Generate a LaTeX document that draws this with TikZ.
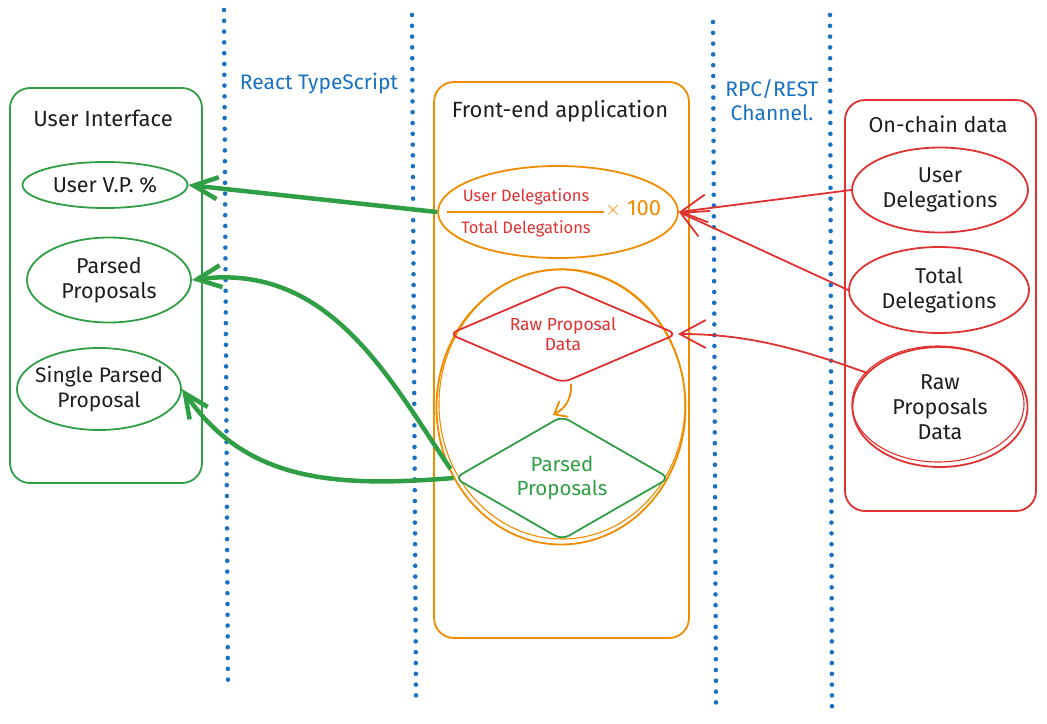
\documentclass[tikz,border=0pt]{standalone}
\usepackage{fontspec}
\setmainfont{Fira Sans}
\usetikzlibrary{shapes.geometric,arrows.meta}
\definecolor{xgreen}{HTML}{2F9E44}
\definecolor{xred}{HTML}{E03131}
\definecolor{xorange}{HTML}{F08C00}
\definecolor{xblue}{HTML}{1971C2}
\definecolor{xblack}{HTML}{1E1E1E}
\tikzset{
  fs/.style={font=\fontsize{#1}{#1}\selectfont\setlength\baselineskip{1.15\baselineskip}},
  panel/.style={draw=#1, line width=1.8pt, rounded corners=20pt, inner sep=0pt},
  oval/.style={ellipse, draw=#1, line width=1.8pt, inner sep=0pt},
  dia/.style={diamond, draw=#1, line width=1.8pt, inner sep=0pt, rounded corners=8pt, align=center},
  dotline/.style={xblue, line width=4.6pt, dash pattern=on 0pt off 10.8pt, line cap=round},
  garrow/.style={xgreen, line width=4.5pt, -{Straight Barb[length=24pt,width=22pt]}},
  rarrow/.style={xred, line width=1.8pt, -{Straight Barb[length=26pt,width=28pt]}},
  oarrow/.style={xorange, line width=1.8pt, -{Straight Barb[length=11pt,width=18pt]}},
  lbl/.style={inner sep=0pt, text=#1, align=center},
}
\begin{document}
\begin{tikzpicture}[x=1pt,y=-1pt]
\useasboundingbox (0,0) rectangle (1047,723);
% dotted separators
\coordinate (d1t) at (224,10); \coordinate (d1b) at (228,690);
\coordinate (d2t) at (412,15); \coordinate (d2b) at (416,697);
\coordinate (d3t) at (713,22); \coordinate (d3b) at (716,705);
\coordinate (d4t) at (830,15); \coordinate (d4b) at (832,710);
\draw[dotline] (d1t) -- (d1b);
\draw[dotline] (d2t) -- (d2b);
\draw[dotline] (d3t) -- (d3b);
\draw[dotline] (d4t) -- (d4b);
\node[lbl=xblue, fs=21] (react) at (319,84) {React TypeScript};
\node[lbl=xblue, fs=21] (rpc) at (772,100) {RPC/REST\\Channel.};

% User interface panel
\node[panel=xgreen, minimum width=192pt, minimum height=395pt] (ui) at (106,285.5) {};
\node[lbl=xblack, fs=22] (uit) at (103,118) {User Interface};
\node[oval=xgreen, minimum width=165pt, minimum height=46pt] (vp) at (105,185) {};
\node[lbl=xblack, fs=21.5] (vpt) at (vp.center) {User V.P. \%};
\node[oval=xgreen, minimum width=164pt, minimum height=85pt] (pp) at (109,280) {};
\node[lbl=xblack, fs=21.5] (ppt) at (pp.center) {Parsed\\Proposals};
\node[oval=xgreen, minimum width=164pt, minimum height=82pt] (spp) at (99,389) {};
\node[lbl=xblack, fs=21] (sppt) at (spp.center) {Single Parsed\\Proposal};

% Front-end panel
\node[panel=xorange, minimum width=255pt, minimum height=556pt] (fe) at (561.5,360) {};
\node[lbl=xblack, fs=22] (fet) at (560,111) {Front-end application};
\node[oval=xorange, minimum width=240pt, minimum height=92pt] (fml) at (558,212) {};
\coordinate (fl1) at (447,212); \coordinate (fl2) at (604,212);
\draw[xorange, line width=1.8pt] (fl1) -- (fl2);
\node[lbl=xred, fs=16.5] (fnum) at (526,197) {User Delegations};
\node[lbl=xred, fs=16.5] (fden) at (526,229) {Total Delegations};
\node[lbl=xorange, fs=22, anchor=west] (x100) at (605,209) {$\times$ 100};
\node[oval=xorange, minimum width=249pt, minimum height=275pt] (big) at (561,407) {};
\draw[xorange, line width=1.1pt] (big.center) ++(1,-3) ellipse (123pt and 135pt);
\node[dia=xred, shape aspect=2.3, minimum width=228pt, minimum height=98pt, fs=17.5, text=xred] (rd) at (563,334) {Raw Proposal\\Data};
\node[dia=xgreen, shape aspect=1.75, minimum width=215pt, minimum height=124pt, fs=20.5, text=xgreen] (gd) at (562,478) {Parsed\\Proposals};
\draw[oarrow] ([xshift=8pt]rd.south) .. controls (572,402) and (562,410) .. ([xshift=-9pt]gd.north);

% On-chain panel
\node[panel=xred, minimum width=191pt, minimum height=411pt] (oc) at (940.5,305.5) {};
\node[lbl=xblack, fs=21.5] (oct) at (938,124) {On-chain data};
\node[oval=xred, minimum width=176pt, minimum height=85pt] (ud) at (940,190) {};
\node[lbl=xblack, fs=21.5] (udt) at (ud.center) {User\\Delegations};
\node[oval=xred, minimum width=180pt, minimum height=86pt] (td) at (939,290) {};
\node[lbl=xblack, fs=21.5] (tdt) at (td.center) {Total\\Delegations};
\node[oval=xred, minimum width=175pt, minimum height=120pt] (rpd) at (940,407) {};
\draw[xred, line width=1.1pt] (rpd.center) ++(-2,-3) ellipse (86pt and 58pt);
\node[lbl=xblack, fs=21.5] (rpdt) at (rpd.center) {Raw\\Proposals\\Data};

% connectors
\draw[rarrow] (ud.west) -- (fml.east);
\draw[rarrow] (td.west) -- (fml.east);
\draw[rarrow] (rpd.155) .. controls (790,345) and (740,334) .. (rd.east);
\draw[garrow] (fml.west) -- (vp.east);
\draw[garrow] ([xshift=-3pt,yshift=9pt]gd.west) .. controls (390,380) and (330,262) .. (pp.east);
\draw[garrow] (gd.west) .. controls (330,488) and (245,480) .. (spp.east);
\end{tikzpicture}
\end{document}
